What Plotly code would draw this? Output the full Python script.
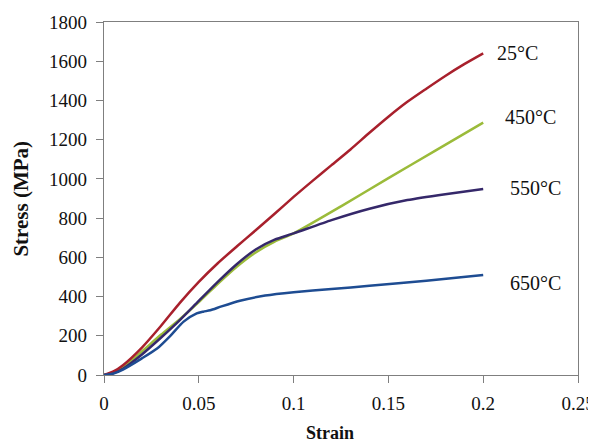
import plotly.graph_objects as go

# Strain values (x) and stress values (MPa) per temperature
strain_25 = [0, 0.005, 0.01, 0.02, 0.03, 0.04, 0.05, 0.06, 0.07, 0.08, 0.09, 0.1, 0.11, 0.12, 0.13, 0.14, 0.15, 0.16, 0.17, 0.18, 0.19, 0.2]
stress_25 = [0, 18, 50, 140, 250, 368, 475, 570, 655, 738, 822, 908, 990, 1070, 1150, 1235, 1317, 1393, 1460, 1525, 1585, 1640]

strain_450 = [0, 0.005, 0.01, 0.02, 0.03, 0.04, 0.05, 0.06, 0.07, 0.08, 0.09, 0.1, 0.125, 0.15, 0.175, 0.2]
stress_450 = [0, 12, 38, 120, 205, 285, 372, 465, 552, 625, 680, 722, 860, 1004, 1145, 1287]

strain_550 = [0, 0.005, 0.01, 0.02, 0.03, 0.04, 0.05, 0.06, 0.07, 0.08, 0.09, 0.1, 0.12, 0.14, 0.16, 0.18, 0.2]
stress_550 = [0, 10, 32, 105, 190, 280, 378, 475, 565, 640, 690, 722, 790, 848, 892, 922, 948]

strain_650 = [0, 0.005, 0.01, 0.02, 0.028, 0.035, 0.042, 0.0489, 0.0524, 0.056, 0.062, 0.0717, 0.085, 0.1, 0.12, 0.14, 0.17, 0.2]
stress_650 = [0, 8, 28, 85, 135, 200, 272, 314, 323, 330, 350, 379, 405, 422, 438, 455, 480, 510]

series_names = ["25\u00b0C", "450\u00b0C", "550\u00b0C", "650\u00b0C"]
label_x = [0.218, 0.2247, 0.2278, 0.2278]
label_y = [1642, 1316, 953, 469]

x_ticks = [0, 0.05, 0.1, 0.15, 0.2, 0.25]
x_tick_text = ["0", "0.05", "0.1", "0.15", "0.2", "0.25"]
y_ticks = [0, 200, 400, 600, 800, 1000, 1200, 1400, 1600, 1800]

colors = ["#A8202C", "#9BBB3A", "#35286A", "#1E4C92"]
data = [(strain_25, stress_25), (strain_450, stress_450), (strain_550, stress_550), (strain_650, stress_650)]

fig = go.Figure()
for i in [1, 2, 0, 3]:
    xs, ys = data[i]
    fig.add_trace(go.Scatter(x=xs, y=ys, mode="lines", name=series_names[i],
                             line=dict(color=colors[i], width=2.5, shape="spline", smoothing=0.6),
                             showlegend=False))

for name, lx, ly in zip(series_names, label_x, label_y):
    fig.add_annotation(x=lx, y=ly, text=name, showarrow=False, xref="x", yref="y",
                       font=dict(family="Liberation Serif", size=20, color="#111111"))

# axis titles
fig.add_annotation(x=-0.177, y=0.5, xref="paper", yref="paper", text="<b>Stress (MPa)</b>",
                   showarrow=False, textangle=-90, xanchor="center", yanchor="middle",
                   font=dict(family="Liberation Serif", size=21, color="#111111"))
fig.add_annotation(x=0.477, y=-0.164, xref="paper", yref="paper", text="<b>Strain</b>",
                   showarrow=False, xanchor="center", yanchor="middle",
                   font=dict(family="Liberation Serif", size=18, color="#111111"))

axis_common = dict(showline=True, linecolor="#7f7f7f", linewidth=1.3, mirror=True,
                   ticks="outside", ticklen=7, tickcolor="#7f7f7f", showgrid=False, zeroline=False,
                   automargin=False,
                   tickfont=dict(family="Liberation Serif", size=19, color="#111111"))

# the page body has an 8px margin, so the figure is sized/offset to compensate
fig.update_layout(
    width=588, height=436,
    margin=dict(l=96, r=18, t=14, b=69),
    paper_bgcolor="white", plot_bgcolor="white",
    xaxis=dict(range=[0, 0.25], tickvals=x_ticks, ticktext=x_tick_text, ticklabelstandoff=4, **axis_common),
    yaxis=dict(range=[0, 1800], tickvals=y_ticks, ticklabelstandoff=5, **axis_common),
)

fig.write_html("out.html")
